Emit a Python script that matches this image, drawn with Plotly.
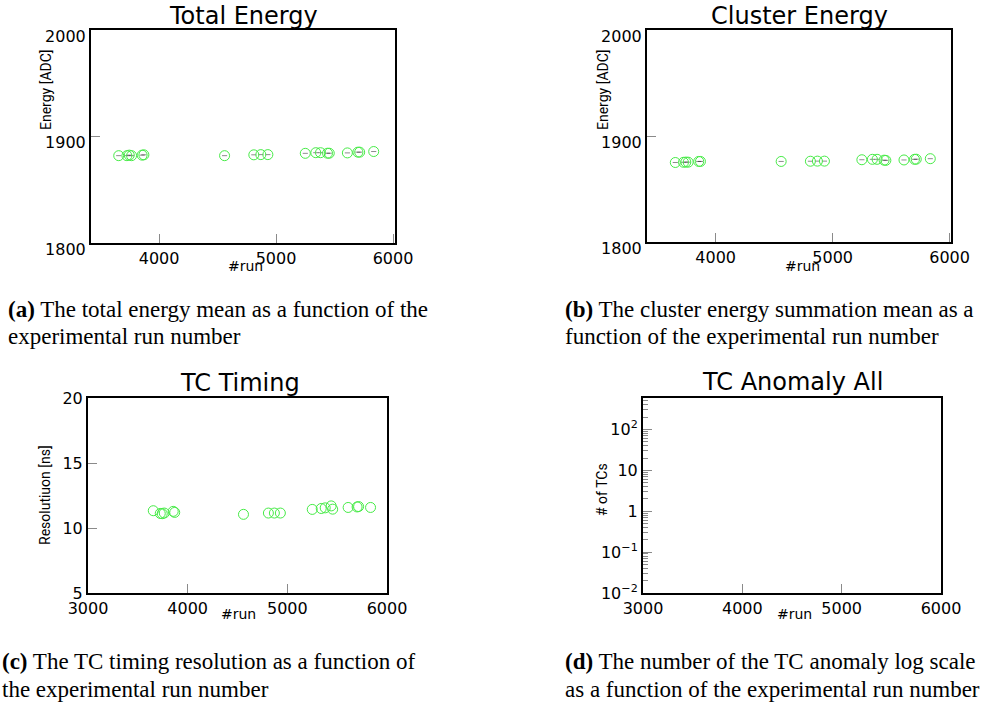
import plotly.graph_objects as go

W, H = 997, 709

# ---------------- data ----------------
runs = [3655, 3725, 3745, 3765, 3855, 3870, 4560, 4810, 4870, 4930,
        5250, 5340, 5380, 5440, 5455, 5610, 5700, 5715, 5835]
total_energy = [1882.0, 1882.0, 1882.5, 1882.0, 1882.5, 1882.8, 1882.0, 1882.8, 1883.0, 1883.0,
                1884.2, 1884.8, 1884.8, 1884.3, 1884.3, 1884.6, 1885.3, 1885.3, 1885.9]
cluster_energy = [1875.0, 1875.2, 1875.4, 1875.3, 1876.0, 1876.0, 1876.0, 1876.2, 1876.3, 1876.3,
                  1877.6, 1878.0, 1878.0, 1877.2, 1877.0, 1877.4, 1878.0, 1878.1, 1878.6]
tc_timing = [11.33, 11.12, 11.10, 11.15, 11.28, 11.20, 11.05, 11.15, 11.15, 11.15,
             11.43, 11.50, 11.55, 11.70, 11.45, 11.58, 11.62, 11.65, 11.58]
tc_anomaly_runs = []
tc_anomaly = []

titles = ["Total Energy", "Cluster Energy", "TC Timing", "TC Anomaly All"]
ytitles = ["Energy [ADC]", "Energy [ADC]", "Resolutiuon [ns]", "# of TCs"]
xtitle = "#run"
captions = [
    ["<b>(a)</b> The total energy mean as a function of the", "experimental run number"],
    ["<b>(b)</b> The cluster energy summation mean as a", "function of the experimental run number"],
    ["<b>(c)</b> The TC timing resolution as a function of", "the experimental run number"],
    ["<b>(d)</b> The number of the TC anomaly log scale", "as a function of the experimental run number"],
]
log_tickvals = [0.01, 0.1, 1, 10, 100]
log_ticktext = ["10<sup>\u22122</sup>", "10<sup>\u22121</sup>", "1", "10", "10<sup>2</sup>"]

# ---------------- layout geometry (pixels) ----------------
def xd(a, b):
    return [a / W, b / W]

def yd(top, bottom):
    return [1 - bottom / H, 1 - top / H]

def px(x, y):
    return x / W, 1 - y / H

GREEN = "rgb(70,235,70)"
TICKC = "#8a8a8a"
FONT = "DejaVu Sans"
NARROW = "Roboto, Liberation Sans, sans-serif"
SERIF = "Liberation Serif, Times New Roman, serif"

fig = go.Figure()

marker = dict(symbol="circle-open", size=10, color=GREEN, line=dict(width=1, color=GREEN))
errx = dict(type="constant", value=22, color="rgba(0,0,0,0.45)", thickness=1, width=0)

fig.add_trace(go.Scatter(x=runs, y=total_energy, mode="markers", marker=marker,
                         error_x=errx, xaxis="x", yaxis="y", showlegend=False))
fig.add_trace(go.Scatter(x=runs, y=cluster_energy, mode="markers", marker=marker,
                         error_x=errx, xaxis="x2", yaxis="y2", showlegend=False))
fig.add_trace(go.Scatter(x=runs, y=tc_timing, mode="markers", marker=marker,
                         xaxis="x3", yaxis="y3", showlegend=False))
fig.add_trace(go.Scatter(x=tc_anomaly_runs, y=tc_anomaly, mode="markers", marker=marker,
                         xaxis="x4", yaxis="y4", showlegend=False))

common = dict(showline=True, linecolor="black", linewidth=2, mirror=True,
              ticks="inside", ticklen=9, tickcolor=TICKC, tickwidth=1,
              showgrid=False, zeroline=False, automargin=False,
              tickfont=dict(family=FONT, size=16, color="black"))

xt = dict(tickvals=[3000, 4000, 5000, 6000])

fig.update_layout(
    width=W, height=H,
    margin=dict(l=0, r=0, t=0, b=0, autoexpand=False),
    paper_bgcolor="white", plot_bgcolor="white",
    xaxis=dict(domain=xd(91, 395), range=[3418, 6017], anchor="y", **xt, **common),
    yaxis=dict(domain=yd(30, 243), range=[1800, 2000], anchor="x",
               tickvals=[1800, 1900, 2000], ticklabelshift=6, **common),
    xaxis2=dict(domain=xd(647, 951), range=[3413, 6012], anchor="y2", **xt, **common),
    yaxis2=dict(domain=yd(30, 242), range=[1800, 2000], anchor="x2",
                tickvals=[1800, 1900, 2000], ticklabelshift=6, **common),
    xaxis3=dict(domain=xd(88, 387), range=[3000, 6000], anchor="y3", **xt, **common),
    yaxis3=dict(domain=yd(398, 593), range=[5, 20], anchor="x3",
                tickvals=[5, 10, 15, 20], **common),
    xaxis4=dict(domain=xd(643, 941), range=[3000, 6000], anchor="y4", **xt, **common),
    yaxis4=dict(domain=yd(398, 593), type="log", range=[-2, 2.77], anchor="x4",
                tickvals=log_tickvals, ticktext=log_ticktext,
                minor=dict(ticks="inside", ticklen=5, tickcolor=TICKC,
                           tickvals=[m * d for d in [0.01, 0.1, 1, 10, 100]
                                     for m in range(2, 10)]),
                **common),
)

ann = []
# panel titles
for t, (x, y) in zip(titles, [(243, 16), (799, 16), (240, 383), (792, 382)]):
    ax, ay = px(x, y)
    ann.append(dict(text=t, x=ax, y=ay, xref="paper", yref="paper", showarrow=False,
                    xanchor="center", yanchor="middle",
                    font=dict(family=FONT, size=24, color="black")))
# y axis titles
for t, (x, y) in zip(ytitles, [(46, 90), (603, 90), (45, 495), (602, 490)]):
    ax, ay = px(x, y)
    ann.append(dict(text=t, x=ax, y=ay, xref="paper", yref="paper", showarrow=False,
                    xanchor="center", yanchor="middle", textangle=-90,
                    font=dict(family=NARROW, size=14, color="black")))
# x axis titles
for (x, y) in [(245, 266), (802, 266), (238, 614), (794, 614)]:
    ax, ay = px(x, y)
    ann.append(dict(text=xtitle, x=ax, y=ay, xref="paper", yref="paper", showarrow=False,
                    xanchor="center", yanchor="middle",
                    font=dict(family=FONT, size=14, color="black")))
# captions (two lines each)
for lines, (x, y) in zip(captions, [(6, 309), (563, 309), (0, 661), (563, 661)]):
    for i, line in enumerate(lines):
        ax, ay = px(x, y + 28 * i)
        ann.append(dict(text=line, x=ax, y=ay, xref="paper", yref="paper", showarrow=False,
                        xanchor="left", yanchor="middle", align="left",
                        font=dict(family=SERIF, size=23, color="black")))

fig.update_layout(annotations=ann)

fig.write_html("out.html", config={"displayModeBar": False},
               post_script="document.body.style.margin='0px';")
